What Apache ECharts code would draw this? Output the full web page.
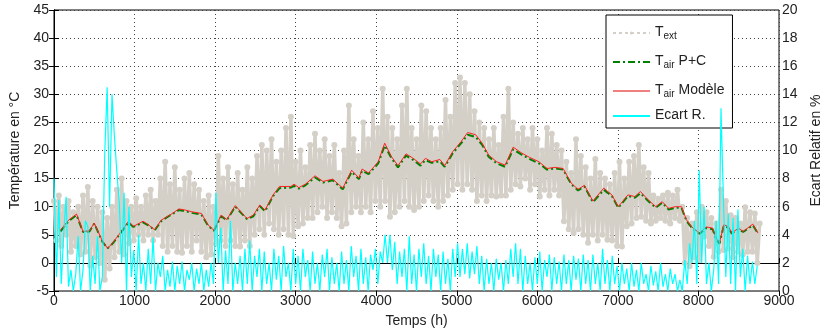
<!DOCTYPE html>
<html>
<head>
<meta charset="UTF-8">
<title>Températures</title>
<script src="https://cdn.jsdelivr.net/npm/echarts@6/dist/echarts.min.js"></script>
<style>
  html, body { margin: 0; padding: 0; background: #fff; }
  #chart { width: 831px; height: 335px; }
</style>
</head>
<body>
<div id="chart"></div>
<script>
// T_ext : relevé toutes les 30 h (alternance haut / bas de la bande)
var extStart = 0;
var extStep = 30;
var extTemp = [
  11, 4, 12, 3, 10, 5, 11, 2, 9, 3,
  10, 1.5, 12, 2, 13.5, -0.5, 11, 1, 10, 0,
  9, -3, 8, -1, 10, 1, 13, 2, 15, 1.5,
  11, 3.5, 10, 4, 11.5, 5, 10, 4, 12, 5,
  13, 4, 11, 5, 15, 3, 18, 2, 14, 3,
  17, 2, 13, 1.8, 15, 3, 16, 2, 14, 4,
  13, 2, 11, 1, 12, 1.5, 10, 3.4, 19, 4,
  15, 3, 17, 4, 14, 3, 16, 2.9, 13, 4,
  17, 3, 15, 5, 19, 6, 21, 5, 20, 7,
  22, 6, 18, 5, 20, 6, 24, 5, 26, 4.8,
  18, 6.5, 20, 7, 17, 8, 21, 8, 23, 9,
  20, 10, 22, 8, 19, 9, 21, 8, 16, 6.5,
  20, 7, 28, 9, 22, 10, 19, 9, 25, 10,
  22, 9, 27, 11, 24, 10, 31, 11, 26, 8.2,
  24, 9, 22, 10, 28, 11, 31, 10, 24, 9.4,
  22, 10, 28, 11, 27, 12, 24, 11, 22, 10,
  24, 11, 29, 12, 26, 13, 32, 14, 33, 13,
  32, 14, 30, 13, 27, 11, 25, 12, 24, 11,
  22, 12, 24, 11.8, 21, 12, 26, 12, 31, 13,
  25, 14, 23, 13.6, 24, 15, 22, 13, 24, 14,
  22, 11.8, 20, 13, 24, 12, 23, 13, 21, 12,
  20, 7.4, 18, 6, 16, 5.3, 22, 6, 19, 5,
  17, 3.6, 15, 5, 18.5, 4, 16, 5, 15, 4.1,
  14, 4, 16, 3, 18, 2.9, 15, 6.5, 18, 7,
  19, 8, 21, 8.2, 17, 7.5, 16, 7, 12, 7.5,
  11.4, 8, 12, 7.5, 12.5, 7, 12, 8, 13, 7.5,
  10, 0, 8, -0.6, 7, 1, 9, 0.5, 10, 4.7,
  9, 3, 8, 1.1, 7, 2, 13, 2.3, 11, 2.5,
  8.5, 1, 8, 2, 7, 1.5, 9.9, 2, 9, 2,
  8.8, 0, 7
];

// T_air : heures et valeurs relevées
var airHours = [
  80, 180, 280, 360, 440, 500, 600, 665, 725, 805,
  925, 985, 1105, 1170, 1250, 1330, 1390, 1470, 1550, 1630,
  1710, 1830, 1910, 1985, 2075, 2145, 2250, 2395, 2475, 2555,
  2620, 2720, 2800, 2940, 2980, 3040, 3120, 3240, 3340, 3460,
  3585, 3695, 3785, 3825, 3905, 4025, 4105, 4190, 4270, 4370,
  4450, 4550, 4610, 4690, 4790, 4850, 4950, 5055, 5135, 5235,
  5315, 5395, 5495, 5600, 5700, 5800, 5900, 6020, 6120, 6220,
  6320, 6420, 6505, 6585, 6690, 6825, 6925, 7005, 7125, 7210,
  7280, 7370, 7470, 7550, 7630, 7710, 7790, 7850, 7930, 8015,
  8095, 8175, 8220, 8260, 8315, 8375, 8415, 8495, 8555, 8675,
  8740
];
var tairModele = [
  5.8, 7.6, 8.7, 5.6, 5.7, 7.1, 3.9, 2.6, 3.5, 5.0,
  7.4, 6.5, 7.4, 6.8, 5.9, 7.6, 8.1, 8.8, 9.6, 9.4,
  9.1, 8.8, 6.8, 5.8, 8.5, 7.7, 10.2, 7.9, 8.5, 10.3,
  9.4, 12.1, 13.6, 13.6, 14.0, 13.4, 14.0, 15.5, 14.5, 14.9,
  13.3, 16.5, 15.1, 16.7, 16.0, 18.0, 21.3, 18.9, 17.3, 19.4,
  18.7, 17.6, 18.6, 18.0, 18.4, 17.3, 19.8, 21.6, 23.2, 22.8,
  21.3, 19.2, 18.0, 17.4, 20.6, 19.6, 18.8, 18.0, 16.8, 17.0,
  16.8, 14.2, 13.1, 13.8, 11.0, 13.3, 12.1, 10.0, 12.1, 11.8,
  12.7, 11.3, 10.0, 10.9, 9.7, 10.0, 10.0, 7.7, 6.2, 5.3,
  6.4, 6.2, 4.4, 3.5, 6.8, 6.4, 5.3, 6.2, 5.6, 6.9,
  5.3
];
var tairPC = [
  5.6, 7.4, 8.5, 5.5, 5.6, 7.0, 3.8, 2.6, 3.4, 4.9,
  7.2, 6.4, 7.2, 6.7, 5.8, 7.4, 8.0, 8.7, 9.4, 9.2,
  8.9, 8.6, 6.7, 5.7, 8.3, 7.6, 10.0, 7.8, 8.3, 10.1,
  9.2, 11.9, 13.3, 13.4, 13.7, 13.2, 13.8, 15.2, 14.3, 14.7,
  13.1, 16.2, 14.9, 16.4, 15.8, 17.7, 20.9, 18.6, 17.0, 19.1,
  18.4, 17.3, 18.3, 17.8, 18.1, 17.1, 19.5, 21.3, 22.8, 22.4,
  21.0, 18.9, 17.7, 17.1, 20.2, 19.3, 18.5, 17.7, 16.6, 16.8,
  16.6, 14.0, 12.9, 13.6, 10.8, 13.0, 11.9, 9.8, 11.9, 11.6,
  12.4, 11.1, 9.8, 10.7, 9.5, 9.8, 9.8, 7.5, 6.0, 5.2,
  6.2, 6.0, 4.3, 3.4, 6.6, 6.2, 5.2, 6.0, 5.5, 6.7,
  5.2
];

// Ecart relatif (%) : relevé toutes les 30 h
var ecartStart = 0;
var ecartStep = 30;
var ecart = [
  8, 1, 6.5, 0.5, 4, 6.7, 0.3, 1.5, 0, 1.2,
  3.9, 0, 1.5, 5, 4.6, 0, 2.5, 0.5, 3.9, 0,
  1, 9.8, 14.5, 6, 14, 11, 8.5, 6.3, 2, 7,
  0, 6, 1, 2.9, 0, 4, 0.5, 2, 0, 3,
  0.5, 3.8, 0, 2, 1, 2.5, 0, 1.5, 0.3, 2.1,
  0, 1.8, 0.5, 2.1, 0, 1.5, 0.8, 2, 0, 1.6,
  0.5, 2, 0, 1.5, 0.3, 2, 0.5, 7, 2, 4.5,
  0, 2.9, 0.5, 5, 0, 2, 0.5, 2.5, 0, 3,
  0.5, 3.6, 0, 2.5, 1, 3, 0, 2.8, 0.5, 2,
  0, 3, 0.8, 2.5, 0, 3.2, 1, 2, 0, 3,
  0.5, 2.5, 0, 3, 1, 2.2, 0, 2.8, 0.5, 2,
  0, 2.6, 1, 3, 0, 2.4, 0.5, 2, 0, 2.8,
  0.5, 2.2, 0, 3.2, 1, 2.5, 0, 3, 0.5, 2.4,
  0, 2.6, 1.5, 3, 0.5, 2.8, 2, 4, 2, 4,
  1.5, 3.5, 0.5, 2.8, 1, 3, 0, 3.9, 0.5, 2.6,
  0, 3, 1, 3.4, 0.5, 2.5, 0, 3, 1, 2.6,
  0, 2.8, 0.5, 2.3, 0, 3, 1, 3.4, 1, 3,
  1.2, 3.4, 0.9, 2.8, 1.2, 3.2, 0.5, 2.5, 0, 2.3,
  0.5, 2, 0, 2.3, 0.8, 2, 0, 2.2, 0.5, 3,
  1, 3.4, 0.5, 3, 0, 2.5, 0.5, 2, 0, 2.4,
  0.5, 2.8, 0, 2.2, 1, 2.6, 0, 2.4, 0.5, 2.1,
  0, 2.6, 0.5, 2.2, 0, 2.5, 0.8, 2.3, 0, 2.6,
  0.5, 2.2, 0, 2.6, 0.5, 2, 0, 3, 0.5, 2.2,
  0, 2.5, 0.5, 1.8, 0, 2, 0.5, 1.6, 0, 2,
  0.3, 1.5, 0, 2, 0.5, 1.2, 0, 1.8, 0.4, 1.4,
  0, 2, 0.3, 1.2, 0, 1.6, 0.5, 1.2, 0, 0.8,
  0, 2.2, 0.5, 3.4, 2, 5, 0.5, 8.6, 2, 6,
  0.5, 2, 0, 1.5, 5, 0.5, 13, 6.5, 1, 5.5,
  0.5, 5.2, 0, 5.8, 1, 3, 0, 2.5, 0.5, 2.1,
  0.5, 1.8
];

var legendText = {
  'Text': '{m|T}{s|ext}',
  'TairPC': '{m|T}{s|air}{m| P+C}',
  'TairModele': '{m|T}{s|air}{m| Modèle}',
  'Ecart': '{m|Ecart R.}'
};

var font = 'Liberation Sans, Arial, sans-serif';

function toPairs(hours, vals) {
  return vals.map(function (v, i) { return [hours[i], v]; });
}
function stepPairs(start, step, vals) {
  return vals.map(function (v, i) { return [start + i * step, v]; });
}

var chart = echarts.init(document.getElementById('chart'));
var noDot = { opacity: 0 };
var option = {
  animation: false,
  backgroundColor: '#fff',
  grid: {
    left: 50, right: 36, top: 10, bottom: 44,
    show: true, borderColor: '#000', borderWidth: 1
  },
  legend: {
    left: 606, top: 15,
    orient: 'vertical',
    backgroundColor: '#fff',
    borderColor: '#000',
    borderWidth: 1,
    borderRadius: 0,
    padding: [6, 8, 6, 6],
    itemGap: 9,
    itemWidth: 37,
    itemHeight: 4,
    data: [
      { name: 'Text', lineStyle: { type: [3, 3] } },
      { name: 'TairPC', itemStyle: noDot },
      { name: 'TairModele', itemStyle: noDot, lineStyle: { color: '#f08080', width: 2 } },
      { name: 'Ecart', itemStyle: noDot }
    ],
    formatter: function (name) { return legendText[name]; },
    textStyle: {
      color: '#222',
      fontFamily: font,
      rich: {
        m: { fontSize: 14, fontFamily: font, color: '#222', verticalAlign: 'top', lineHeight: 16 },
        s: { fontSize: 10, fontFamily: font, color: '#222', verticalAlign: 'bottom', lineHeight: 10, padding: [10, 0, 0, 0] }
      }
    }
  },
  xAxis: [{
    type: 'value',
    min: 0, max: 9000, interval: 1000,
    name: 'Temps (h)',
    nameLocation: 'middle',
    nameGap: 23,
    nameTextStyle: { fontSize: 14, fontFamily: font, color: '#222' },
    axisLine: { show: true, lineStyle: { color: '#000' } },
    axisTick: { show: true, inside: true, length: 5, lineStyle: { color: '#000' } },
    axisLabel: {
      fontSize: 14, fontFamily: font, color: '#222', margin: 3,
      formatter: function (v) { return String(v); }
    },
    splitLine: { show: true, lineStyle: { color: '#444', type: [1, 3], width: 1 } }
  }, {
    type: 'value',
    position: 'top',
    min: 0, max: 9000, interval: 1000,
    axisLine: { show: true, lineStyle: { color: '#777' } },
    axisTick: { show: true, inside: true, length: 5, lineStyle: { color: '#000' } },
    axisLabel: { show: false },
    splitLine: { show: false }
  }],
  yAxis: [{
    type: 'value',
    min: -5, max: 45, interval: 5,
    name: 'Température en °C',
    nameLocation: 'middle',
    nameRotate: 90,
    nameGap: 32,
    nameTextStyle: { fontSize: 14, fontFamily: font, color: '#222' },
    axisLine: { show: true, lineStyle: { color: '#000' } },
    axisTick: { show: true, inside: true, length: 5, lineStyle: { color: '#000' } },
    axisLabel: { fontSize: 14, fontFamily: font, color: '#222', margin: 5 },
    splitLine: { show: true, lineStyle: { color: '#444', type: [1, 3], width: 1 } }
  }, {
    type: 'value',
    position: 'right',
    min: 0, max: 20, interval: 2,
    name: 'Ecart Relatif en %',
    nameLocation: 'middle',
    nameRotate: 90,
    nameGap: 30,
    nameTextStyle: { fontSize: 14, fontFamily: font, color: '#222' },
    axisLine: { show: true, lineStyle: { color: '#000' } },
    axisTick: { show: true, inside: true, length: 5, lineStyle: { color: '#000' } },
    axisLabel: { fontSize: 14, fontFamily: font, color: '#222', margin: 3 },
    splitLine: { show: false }
  }],
  series: [{
    name: 'Text',
    type: 'line',
    data: stepPairs(extStart, extStep, extTemp),
    symbol: 'circle',
    symbolSize: 6,
    showSymbol: true,
    itemStyle: { color: '#d4d0c8' },
    lineStyle: { color: '#d4d0c8', width: 3.5 },
    z: 1
  }, {
    name: 'TairPC',
    type: 'line',
    data: toPairs(airHours, tairPC),
    symbol: 'none',
    itemStyle: { color: '#008000' },
    lineStyle: { color: '#008000', width: 2, type: [7, 3, 2, 3] },
    z: 2
  }, {
    name: 'TairModele',
    type: 'line',
    data: toPairs(airHours, tairModele),
    symbol: 'none',
    itemStyle: { color: '#ff2020' },
    lineStyle: { color: '#ff2020', width: 1 },
    z: 3
  }, {
    name: 'Ecart',
    type: 'line',
    yAxisIndex: 1,
    data: stepPairs(ecartStart, ecartStep, ecart),
    symbol: 'none',
    itemStyle: { color: '#00ffff' },
    lineStyle: { color: '#00ffff', width: 1.2 },
    z: 4
  }]
};
chart.setOption(option);
</script>
</body>
</html>
